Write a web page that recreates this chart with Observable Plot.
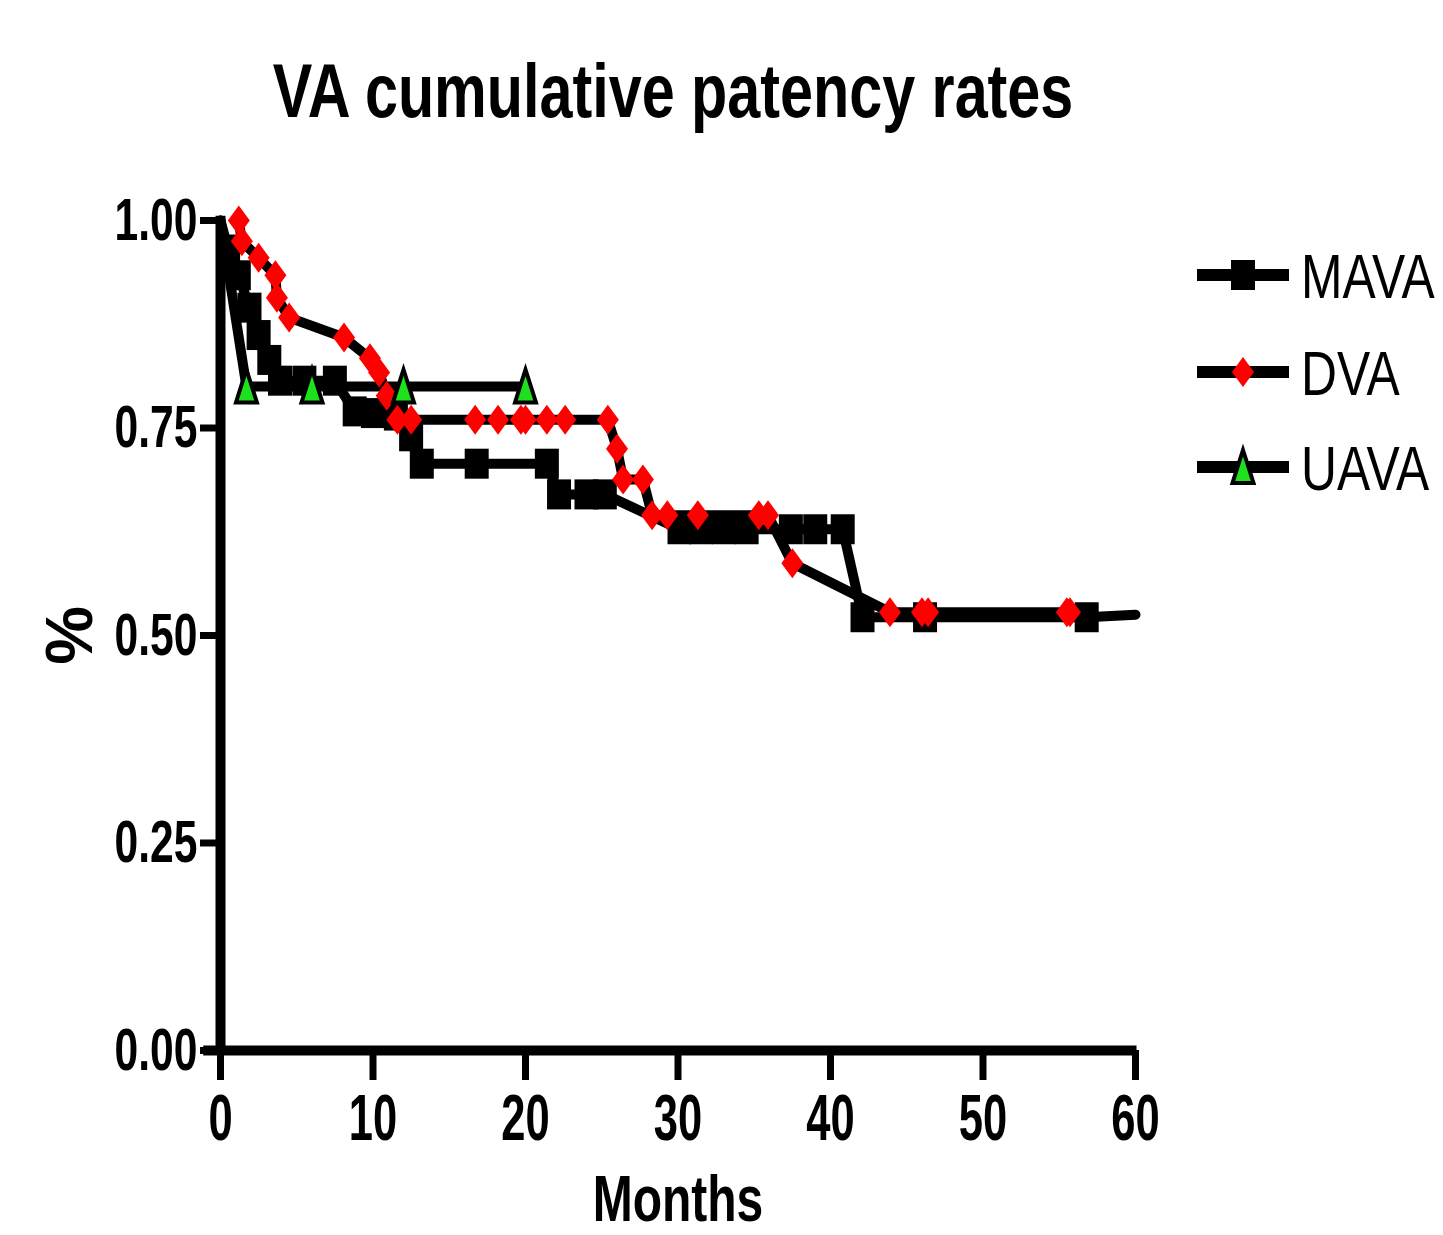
<!DOCTYPE html>
<html>
<head>
<meta charset="utf-8">
<script src="https://cdn.jsdelivr.net/npm/d3@7"></script>
<script src="https://cdn.jsdelivr.net/npm/@observablehq/plot@0.6"></script>
<style>
  body { margin: 0; background: #fff; font-family: "Liberation Sans", Arial, sans-serif; }
  #wrap { position: relative; width: 1443px; height: 1235px; overflow: hidden; background: #fff; }
  #title { position: relative; height: 150px; }
  #title span { position: absolute; left: 673px; top: 53px; font-size: 76px; line-height: 76px; font-weight: bold; white-space: nowrap; transform: translateX(-50%) scaleX(0.78); transform-origin: 50% 50%; color: #000; }
  .leg { position: absolute; left: 1192px; height: 60px; }
  .leg svg { position: absolute; left: 0; top: 5px; }
  .leg span { position: absolute; left: 109px; top: 0; font-size: 63px; line-height: 63px; white-space: nowrap; transform: scaleX(0.79); transform-origin: 0 50%; color: #000; }
</style>
</head>
<body>
<div id="wrap">
  <div id="title"><span>VA cumulative patency rates</span></div>
  <div id="chart"></div>
  <div id="legend"></div>
</div>
<script>
// ---------- data ----------
const seriesNames = ["MAVA", "DVA", "UAVA"];

const mavaMonths = [0, 0.5, 1.2, 1.9, 2.5, 3.2, 3.9, 5.5, 7.5, 8.8, 10.0, 11.5, 12.5, 13.2, 16.8, 21.4, 22.2, 24.0, 25.2, 30.1, 31.5, 33.0, 34.5, 37.4, 39.0, 40.8, 42.1, 46.2, 56.8, 60];
const mavaRate   = [1.0, 0.965, 0.934, 0.895, 0.862, 0.832, 0.807, 0.807, 0.807, 0.77, 0.768, 0.765, 0.74, 0.707, 0.707, 0.707, 0.67, 0.67, 0.67, 0.628, 0.628, 0.628, 0.628, 0.628, 0.628, 0.628, 0.522, 0.522, 0.522, 0.525];

const dvaMonths = [1.2, 1.4, 2.5, 3.6, 3.7, 4.5, 8.1, 9.8, 10.4, 10.9, 11.6, 12.5, 16.7, 18.2, 19.7, 20.0, 21.4, 22.6, 25.4, 26.0, 26.4, 27.7, 28.3, 29.3, 31.3, 35.3, 35.9, 37.5, 43.9, 46.0, 46.4, 55.5, 55.7];
const dvaRate   = [1.0, 0.975, 0.955, 0.934, 0.907, 0.883, 0.859, 0.834, 0.817, 0.789, 0.76, 0.76, 0.76, 0.76, 0.76, 0.76, 0.76, 0.76, 0.76, 0.725, 0.688, 0.688, 0.645, 0.645, 0.645, 0.645, 0.645, 0.587, 0.528, 0.528, 0.528, 0.528, 0.528];

const uavaMonths = [0, 1.7, 6.0, 12.0, 20.0];
const uavaRate   = [1.0, 0.80, 0.80, 0.80, 0.80];

const xTicks = [0, 10, 20, 30, 40, 50, 60];
const yTicks = [0, 0.25, 0.5, 0.75, 1.0];

// ---------- build rows ----------
const rows = (m, r, name) => m.map((t, i) => ({t, s: r[i], series: name, i, n: m.length}));
const mava = rows(mavaMonths, mavaRate, seriesNames[0]);
const dva = rows(dvaMonths, dvaRate, seriesNames[1]);
const uava = rows(uavaMonths, uavaRate, seriesNames[2]);

// markers: no marker at the start point (t = 0) nor at the open end of the MAVA curve
const mavaMarks = mava.filter(d => d.i > 0 && d.i < d.n - 1);
const uavaMarks = uava.filter(d => d.i > 0);

// custom marker shapes (slightly taller than wide, as in the original)
const squareSym = {draw(c) { c.moveTo(-12, -15); c.lineTo(12, -15); c.lineTo(12, 15); c.lineTo(-12, 15); c.closePath(); }};
const diamondSym = {draw(c) { c.moveTo(0, -15); c.lineTo(11, 0); c.lineTo(0, 15); c.lineTo(-11, 0); c.closePath(); }};
const triSym = {draw(c) { c.moveTo(0, -17); c.lineTo(10.5, 16); c.lineTo(-10.5, 16); c.closePath(); }};

const lineW = 10;

const chart = Plot.plot({
  width: 1443,
  height: 1085,
  marginTop: 70,
  marginBottom: 185,
  marginLeft: 220,
  marginRight: 308,
  x: {domain: [0, 60]},
  y: {domain: [0, 1]},
  style: {fontFamily: "Liberation Sans, Arial, sans-serif", color: "black", background: "white", overflow: "visible"},
  marks: [
    Plot.axisY(yTicks, {tickSize: 20, strokeWidth: 7, tickPadding: 3, tickFormat: d3.format(".2f"), fontSize: 60, fontWeight: "bold", label: "%", labelAnchor: "center", labelArrow: "none", labelOffset: 175}),
    Plot.axisX(xTicks, {tickSize: 30, strokeWidth: 7, tickPadding: 14, fontSize: 64, fontWeight: "bold", label: "Months", labelAnchor: "center", labelArrow: "none", labelOffset: 170}),
    Plot.ruleX([0], {y1: 0, y2: 1.005, strokeWidth: 10}),
    Plot.ruleY([0], {x1: -1.1, x2: 60.1, strokeWidth: 10}),
    Plot.line(mava, {x: "t", y: "s", stroke: "black", strokeWidth: lineW}),
    Plot.line(dva, {x: "t", y: "s", stroke: "black", strokeWidth: lineW}),
    Plot.line(uava, {x: "t", y: "s", stroke: "black", strokeWidth: lineW}),
    Plot.dot(mavaMarks, {x: "t", y: "s", symbol: squareSym, fill: "black", stroke: "none", r: 12}),
    Plot.dot(dva, {x: "t", y: "s", symbol: diamondSym, fill: "#ff0000", stroke: "none", r: 12}),
    Plot.dot(uavaMarks, {x: "t", y: "s", symbol: triSym, fill: "#1ee01e", stroke: "black", strokeWidth: 4, strokeLinejoin: "miter", r: 12})
  ]
});

// horizontally condensed lettering, like the original
function squeeze(node, s) {
  let tr = node.getAttribute("transform");
  if (!tr) {
    const x = +node.getAttribute("x") || 0, y = +node.getAttribute("y") || 0;
    node.removeAttribute("x"); node.removeAttribute("y");
    tr = `translate(${x},${y})`;
  }
  if (/rotate\(/.test(tr)) tr = tr.replace(/(rotate\([^)]*\))/, `scale(${s},1) $1`);
  else tr = tr + ` scale(${s},1)`;
  node.setAttribute("transform", tr);
}
const sel = d3.select(chart);
sel.selectAll('g[aria-label="y-axis tick label"] text').each(function() { squeeze(this, 0.71); });
sel.selectAll('g[aria-label="x-axis tick label"] text').each(function() { squeeze(this, 0.68); });
sel.selectAll('g[aria-label="x-axis label"] text').each(function() { this.setAttribute("font-size", 64); squeeze(this, 0.75); });
sel.selectAll('g[aria-label="y-axis label"] text').each(function() { this.setAttribute("font-size", 66); });

document.getElementById("chart").appendChild(chart);

// ---------- legend ----------
const legendItems = [
  {name: seriesNames[0], top: 275, shape: '<rect x="39" y="10" width="24" height="30" fill="black"/>'},
  {name: seriesNames[1], top: 372, shape: '<path d="M51,10 L62,25 L51,40 L40,25 Z" fill="#ff0000"/>'},
  {name: seriesNames[2], top: 467, shape: '<path d="M51,8 L61.5,41 L40.5,41 Z" fill="#1ee01e" stroke="black" stroke-width="4" stroke-linejoin="miter"/>'}
];
const leg = document.getElementById("legend");
legendItems.forEach(it => {
  const d = document.createElement("div");
  d.className = "leg";
  d.style.top = (it.top - 30) + "px";
  d.innerHTML = `<svg width="104" height="50" viewBox="0 0 104 50"><line x1="5" x2="97" y1="25" y2="25" stroke="black" stroke-width="12"/>${it.shape}</svg><span>${it.name}</span>`;
  leg.appendChild(d);
});
</script>
</body>
</html>
